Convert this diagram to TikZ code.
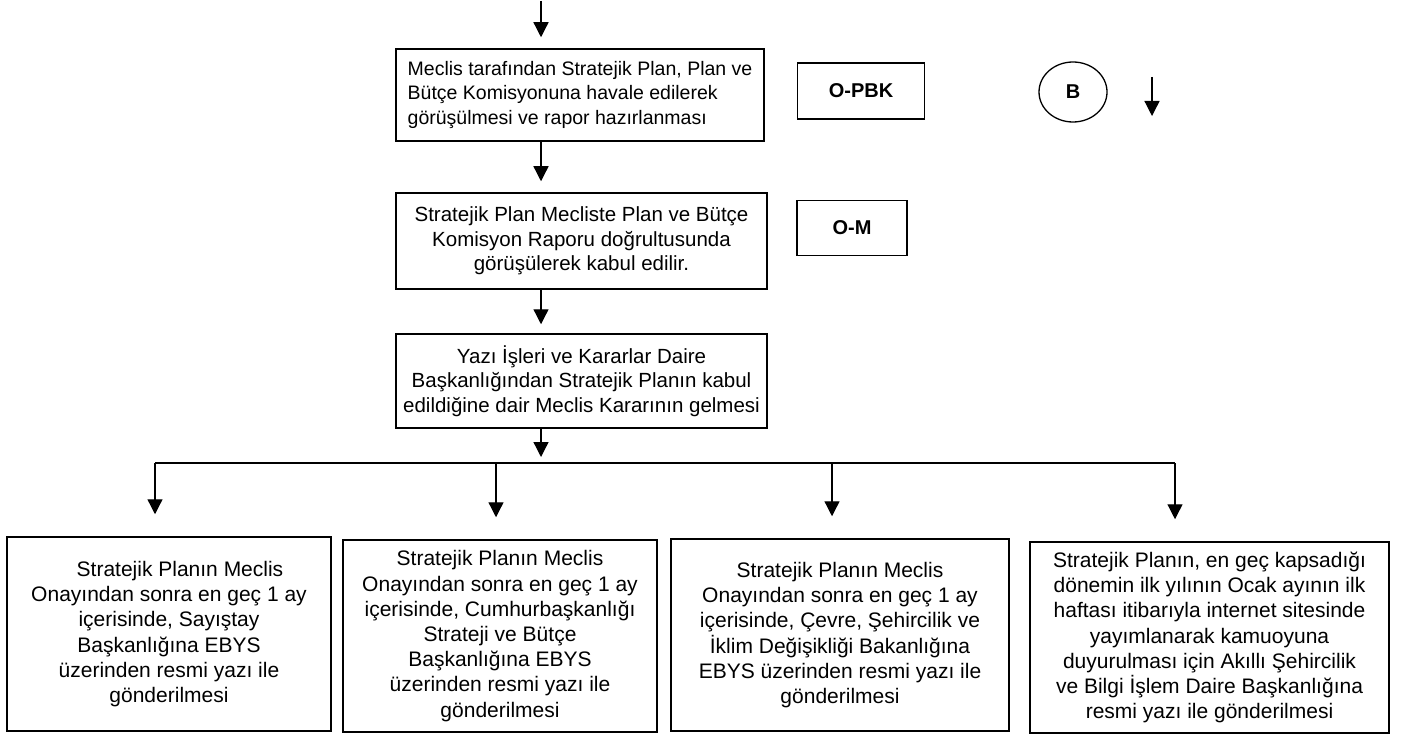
\documentclass[tikz,border=0pt]{standalone}
\usepackage{fontspec}
\setmainfont{Liberation Sans}
\usetikzlibrary{arrows.meta,calc,shapes.geometric}
\begin{document}
\begin{tikzpicture}[x=1pt,y=-1pt,
  box/.style={draw,line width=1.5pt,inner sep=0pt,align=center},
  topbox/.style={box,font=\fontsize{20.5}{24.5}\selectfont},
  botbox/.style={box,font=\fontsize{21}{25.2}\selectfont},
  tagbox/.style={draw,line width=1.5pt,font=\fontsize{20}{24}\selectfont\bfseries},
  arr/.style={line width=1.3pt,-{Triangle[length=15pt,width=15pt]}},
  conn/.style={line width=1.3pt}]
\useasboundingbox (0,0) rectangle (1404,735);
\fill[white] (0,0) rectangle (1404,735);
\coordinate (top) at (541,1);
\node[topbox,align=left,minimum width=368pt,minimum height=92pt,font=\fontsize{19.5}{24.5}\selectfont] (b1) at (580,95)
  {Meclis tarafından Stratejik Plan, Plan ve\\Bütçe Komisyonuna havale edilerek\\görüşülmesi ve rapor hazırlanması};
\node[topbox,minimum width=371pt,minimum height=96pt] (b2) at (581.5,241)
  {Stratejik Plan Mecliste Plan ve Bütçe\\Komisyon Raporu doğrultusunda\\görüşülerek kabul edilir.};
\node[topbox,minimum width=371pt,minimum height=94pt] (b3) at (581.5,381)
  {Yazı İşleri ve Kararlar Daire\\Başkanlığından Stratejik Planın kabul\\edildiğine dair Meclis Kararının gelmesi};
\node[tagbox,minimum width=127pt,minimum height=56pt] (opbk) at (861,91) {O-PBK};
\node[tagbox,minimum width=110pt,minimum height=55pt] (om) at (852,228) {O-M};
\node[draw,line width=1.3pt,ellipse,minimum width=68pt,minimum height=60pt,inner sep=0pt,font=\fontsize{20}{22}\selectfont\bfseries] (bc) at (1073,92) {B};
\coordinate (bs) at (1152,77);
\coordinate (be) at (1152,116);
\draw[arr] (bs) -- (be);

\draw[arr] (top) -- ([yshift=11pt]b1.north -| top);
\draw[arr] (b1.south -| top) -- ([yshift=11pt]b2.north -| top);
\draw[arr] (b2.south -| top) -- ([yshift=9pt]b3.north -| top);
\coordinate (hl) at (155,463);
\coordinate (hr) at (1175,463);
\draw[arr] (b3.south -| top) -- ($(hl -| top)+(0,-6)$);
\draw[conn] (hl) -- (hr);

\node[botbox,minimum width=324pt,minimum height=194pt] (p1) at (169,634)
  {\hspace*{22pt}Stratejik Planın Meclis\\Onayından sonra en geç 1 ay\\içerisinde, Sayıştay\\Başkanlığına EBYS\\üzerinden resmi yazı ile\\gönderilmesi};
\node[botbox,minimum width=314pt,minimum height=192pt] (p2) at (500,636)
  {Stratejik Planın Meclis\\Onayından sonra en geç 1 ay\\içerisinde, Cumhurbaşkanlığı\\Strateji ve Bütçe\\Başkanlığına EBYS\\üzerinden resmi yazı ile\\gönderilmesi};
\node[botbox,minimum width=338pt,minimum height=192pt] (p3) at (840,635)
  {Stratejik Planın Meclis\\Onayından sonra en geç 1 ay\\içerisinde, Çevre, Şehircilik ve\\İklim Değişikliği Bakanlığına\\EBYS üzerinden resmi yazı ile\\gönderilmesi};
\node[botbox,minimum width=359pt,minimum height=191pt] (p4) at (1209.5,637.5)
  {Stratejik Planın, en geç kapsadığı\\dönemin ilk yılının Ocak ayının ilk\\haftası itibarıyla internet sitesinde\\yayımlanarak kamuoyuna\\duyurulması için Akıllı Şehircilik\\ve Bilgi İşlem Daire Başkanlığına\\resmi yazı ile gönderilmesi};

\coordinate (a1) at (155,463);
\coordinate (a2) at (496,463);
\coordinate (a3) at (832,463);
\coordinate (a4) at (1175,463);
\draw[arr] (a1) -- ([yshift=22pt]p1.north -| a1);
\draw[arr] (a2) -- ([yshift=22pt]p2.north -| a2);
\draw[arr] (a3) -- ([yshift=22pt]p3.north -| a3);
\draw[arr] (a4) -- ([yshift=22pt]p4.north -| a4);
\end{tikzpicture}
\end{document}
